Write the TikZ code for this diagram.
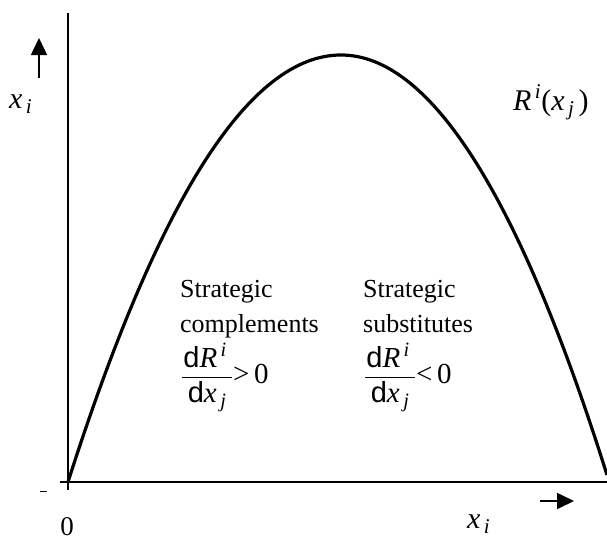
\documentclass[tikz,border=0pt]{standalone}
\usepackage{amsmath}
\usepackage{fontspec}
\setmainfont{Liberation Serif}
\setsansfont{Liberation Sans}
\usetikzlibrary{arrows.meta}
\newcommand{\vi}[1]{\textit{#1}}
\newcommand{\dd}{\textsf{d}}

\begin{document}
\begin{tikzpicture}[x=1pt,y=-1pt,
  every node/.style={inner sep=0pt,font=\fontsize{26}{30}\selectfont},
  lbl/.style={font=\fontsize{30}{34}\selectfont},
  fr/.style={font=\fontsize{29}{34}\selectfont},
  axis/.style={line width=1.6pt},
  dir/.style={line width=1.6pt,-{Triangle[length=17pt,width=16pt]}}]
\useasboundingbox (0,0) rectangle (607,541);
% axes
\coordinate (o) at (68,482);
\coordinate (ytop) at (68,13);
\coordinate (ybot) at (68,490);
\coordinate (xleft) at (60,482);
\coordinate (xright) at (607,482);
\draw[axis] (ybot) -- (ytop);
\draw[axis] (xleft) -- (xright);
\draw[line width=0.8pt] (40,491) -- (47,491);
% direction arrows
\coordinate (ua) at (39,78);
\coordinate (ub) at (39,38);
\coordinate (ra) at (540,501);
\coordinate (rb) at (574,501);
\draw[dir] (ua) -- (ub);
\draw[dir] (ra) -- (rb);
% reaction curve
\coordinate (peak) at (341,55);
\draw[line width=3.2pt,line join=round]
  (o) .. controls (159,197) and (250,55) .. (peak)
      .. controls (430,55) and (519,195) .. (607,475);
% labels
\node[lbl,anchor=base west] (yl) at (9,108) {$\vi{x}_{\,\vi{i}}$};
\node[lbl,anchor=base west] (xl) at (467,528) {$\vi{x}_{\,\vi{i}}$};
\node[anchor=base,font=\fontsize{27}{30}\selectfont] (zero) at (67,535) {0};
\node[lbl,anchor=base west] (ri) at (513,110)
  {$\vi{R}^{\,\vi{i}}\text{(}\vi{x}_{\,\vi{j}}\,\text{)}$};
\node[anchor=base west] (strat1) at (180,297) {Strategic};
\node[anchor=base west] (compl) at (180,332) {complements};
\node[fr,anchor=west] (frac1) at (181,377)
  {$\dfrac{\hspace{1pt}\dd\vi{R}^{\,\vi{i}}\hspace{5pt}}{\dd\vi{x}_{\,\vi{j}}}\text{>\,0}$};
\node[anchor=base west] (strat2) at (363,297) {Strategic};
\node[anchor=base west] (subst) at (363,332) {substitutes};
\node[fr,anchor=west] (frac2) at (364,377)
  {$\dfrac{\hspace{1pt}\dd\vi{R}^{\,\vi{i}}\hspace{5pt}}{\dd\vi{x}_{\,\vi{j}}}\text{<\,0}$};
\end{tikzpicture}
\end{document}
